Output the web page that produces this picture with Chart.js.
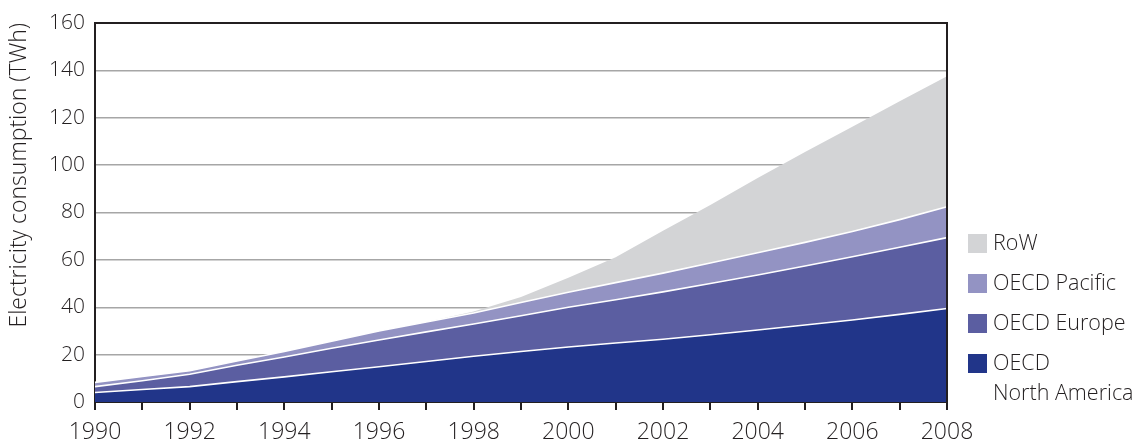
<!DOCTYPE html>
<html>
<head>
<meta charset="utf-8">
<script src="https://cdn.jsdelivr.net/npm/chart.js@4.4.1/dist/chart.umd.min.js"></script>
<style>
  html, body { margin: 0; padding: 0; background: #ffffff; }
  #wrap { position: relative; width: 1147px; height: 442px; }
</style>
</head>
<body>
<div id="wrap"><canvas id="c" width="1147" height="442"></canvas></div>
<script>
const years = ['1990','1991','1992','1993','1994','1995','1996','1997','1998','1999','2000','2001','2002','2003','2004','2005','2006','2007','2008'];
const northAmerica = [4.0, 5.3, 6.5, 8.6, 10.6, 12.8, 14.9, 17.1, 19.3, 21.3, 23.2, 24.9, 26.5, 28.4, 30.4, 32.5, 34.6, 37.0, 39.5];
const europe       = [2.5, 3.7, 5.2, 6.9, 8.4, 9.9, 11.3, 12.5, 13.6, 15.1, 16.8, 18.3, 20.0, 21.6, 23.2, 24.9, 26.7, 28.3, 29.9];
const pacific      = [1.8, 1.8, 1.5, 1.8, 2.3, 3.0, 3.8, 4.2, 4.7, 5.6, 6.3, 7.2, 7.9, 8.7, 9.4, 10.0, 10.7, 11.7, 13.0];
const restOfWorld  = [0, 0, 0, 0, 0, 0, 0, 0, 0.6, 2.3, 6.2, 10.7, 17.9, 24.5, 31.6, 38.1, 44.2, 50.0, 55.1];
const yTicks = [0, 20, 40, 60, 80, 100, 120, 140, 160];

const FONT = "'Open Sans', 'DejaVu Sans', sans-serif";
const TXT = '#231f20';

const seriesDefs = [
  { label: 'OECD North America', legend: ['OECD', 'North America'], data: northAmerica, color: '#213589' },
  { label: 'OECD Europe', legend: ['OECD Europe'], data: europe, color: '#5b5ea1' },
  { label: 'OECD Pacific', legend: ['OECD Pacific'], data: pacific, color: '#9393c3' },
  { label: 'RoW', legend: ['RoW'], data: restOfWorld, color: '#d3d4d6' }
];

const datasets = seriesDefs.map((s, i) => ({
  label: s.label,
  data: s.data,
  backgroundColor: s.color,
  borderColor: i === 3 ? s.color : '#ffffff',
  borderWidth: i === 3 ? 0 : 1.6,
  fill: i === 0 ? 'origin' : '-1',
  pointRadius: 0,
  tension: 0
}));

const framePlugin = {
  id: 'frame',
  afterDatasetsDraw(chart) {
    const { ctx, chartArea: a } = chart;
    ctx.save();
    ctx.strokeStyle = '#231f20';
    ctx.lineWidth = 2;
    ctx.beginPath();
    ctx.moveTo(a.left, a.top);
    ctx.lineTo(a.right, a.top);
    ctx.lineTo(a.right, a.bottom);
    ctx.stroke();
    ctx.restore();
  },
  afterDraw(chart) {
    const { ctx } = chart;
    ctx.save();
    ctx.font = "300 21.5px " + FONT;
    ctx.textBaseline = 'middle';
    const order = [3, 2, 1, 0];
    const rowY = [244, 284, 324, 364];
    order.forEach((idx, k) => {
      const s = seriesDefs[idx];
      const cy = rowY[k];
      ctx.fillStyle = s.color;
      ctx.fillRect(968, cy - 10, 19, 19);
      ctx.fillStyle = TXT;
      s.legend.forEach((line, j) => {
        ctx.fillText(line, 993, cy + j * 30);
      });
    });
    ctx.restore();
  }
};

new Chart(document.getElementById('c'), {
  type: 'line',
  data: { labels: years, datasets },
  options: {
    responsive: false,
    animation: false,
    devicePixelRatio: 1,
    layout: { padding: { top: 23, right: 200, left: 0, bottom: 0 } },
    plugins: { legend: { display: false }, tooltip: { enabled: false } },
    scales: {
      x: {
        type: 'category',
        offset: false,
        grid: { display: true, drawOnChartArea: false, drawTicks: true, tickLength: 8, color: '#231f20', lineWidth: 2 },
        border: { display: true, color: '#231f20', width: 2 },
        ticks: {
          autoSkip: false, maxRotation: 0, minRotation: 0, padding: 9,
          color: TXT, font: { family: FONT, size: 23, weight: '300' },
          callback: function(v, i) { const y = years[i]; return (parseInt(y) % 2 === 0) ? y : ''; }
        },
        afterFit(scale) { scale.height = 40; }
      },
      y: {
        stacked: true,
        min: 0, max: 160,
        afterBuildTicks(scale) { scale.ticks = yTicks.map(v => ({ value: v })); },
        grid: { color: '#a6a6a6', lineWidth: 1.5, drawTicks: false, tickLength: 0 },
        border: { display: true, color: '#231f20', width: 2 },
        ticks: { color: TXT, font: { family: FONT, size: 21, weight: '300' }, padding: 10 },
        title: { display: true, align: 'end', text: 'Electricity consumption (TWh)', color: TXT, font: { family: FONT, size: 23, weight: '300' }, padding: { top: 6, bottom: 0 } },
        afterFit(scale) { scale.width = 95; }
      }
    }
  },
  plugins: [framePlugin]
});
</script>
</body>
</html>
